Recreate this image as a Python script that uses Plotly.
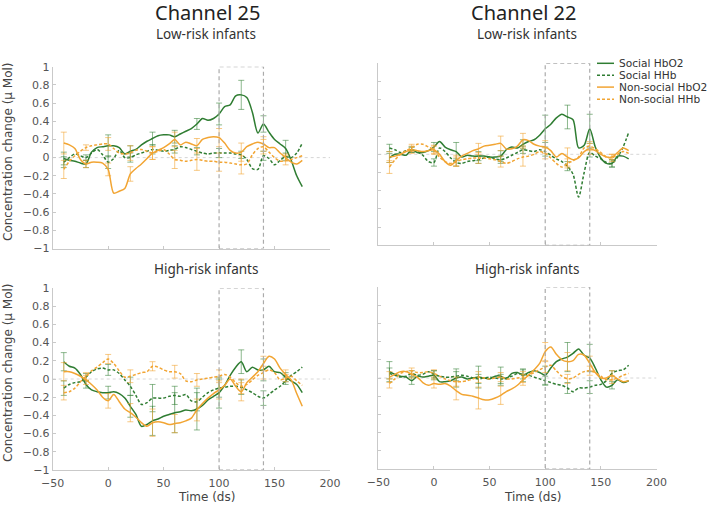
import plotly.graph_objects as go

W, H = 709, 507

# ---------------- data ----------------
T = list(range(-40, 180, 5))          # time (ds) sample grid
ERR_T = list(range(-40, 161, 20))     # positions of error bars

SERIES_NAMES = ["Social HbO2", "Social HHb", "Non-social HbO2", "Non-social HHb"]

# Channel 25, low-risk
C25_LOW_SOC_HBO2 = [-0.01, -0.03, -0.04, -0.06, -0.07, 0.06, 0.11, 0.12, 0.13, 0.13, 0.11, 0.04, 0.07, 0.09,
                    0.14, 0.18, 0.21, 0.24, 0.25, 0.25, 0.23, 0.26, 0.29, 0.32, 0.37, 0.43, 0.41, 0.43, 0.48,
                    0.56, 0.58, 0.68, 0.69, 0.66, 0.5, 0.27, 0.37, 0.28, 0.2, 0.15, 0.1, -0.03, -0.2, -0.32]
C25_LOW_SOC_HHB = [-0.05, 0.0, 0.04, 0.02, 0.0, 0.05, 0.09, 0.03, -0.05, -0.01, 0.08, 0.0, 0.0, 0.03, 0.05,
                   0.07, 0.09, 0.08, 0.07, 0.08, 0.09, 0.12, 0.11, 0.09, 0.07, 0.05, 0.04, 0.05, 0.05, 0.05,
                   0.05, 0.04, 0.03, -0.02, -0.12, -0.13, 0.02, -0.01, -0.08, -0.03, 0.01, 0.0, 0.05, 0.16]
C25_LOW_NON_HBO2 = [0.16, 0.14, 0.1, -0.02, -0.07, -0.05, -0.05, -0.06, -0.13, -0.39, -0.37, -0.34, -0.18,
                    -0.12, -0.07, -0.01, 0.05, 0.08, 0.11, 0.15, 0.2, 0.14, 0.17, 0.15, 0.13, 0.2, 0.22, 0.23,
                    0.22, 0.16, 0.08, 0.05, 0.06, 0.12, 0.15, 0.17, 0.15, 0.11, 0.11, 0.05, 0.0, -0.05, -0.07,
                    -0.03]
C25_LOW_NON_HHB = [-0.13, -0.04, 0.02, 0.07, 0.11, 0.13, 0.14, 0.15, 0.15, 0.1, 0.05, 0.04, 0.05, 0.08, 0.09,
                   0.07, 0.05, 0.07, 0.09, 0.04, -0.02, -0.03, -0.04, -0.03, -0.02, -0.03, -0.04, -0.04, -0.05,
                   -0.05, -0.06, -0.07, -0.08, -0.07, 0.03, 0.1, 0.12, 0.06, 0.0, -0.04, -0.03, -0.02, 0.0, 0.02]
C25_LOW_ERR = [
    [0.07, 0.04, 0.12, 0.06, 0.07, 0.07, 0.06, 0.12, 0.16, 0.09, 0.09],
    [0.06, 0.03, 0.07, 0.05, 0.05, 0.04, 0.04, 0.05, 0.04, 0.05, 0.04],
    [0.12, 0.04, 0.07, 0.08, 0.07, 0.08, 0.08, 0.1, 0.1, 0.08, 0.04],
    [0.1, 0.03, 0.07, 0.08, 0.07, 0.1, 0.12, 0.1, 0.1, 0.08, 0.05],
]

# Channel 22, low-risk
C22_LOW_SOC_HBO2 = [-0.04, 0.0, 0.0, -0.01, 0.05, 0.02, 0.02, 0.04, 0.08, 0.14, 0.08, 0.05, 0.03, -0.03,
                    -0.01, -0.02, -0.02, -0.02, -0.03, -0.03, -0.02, 0.05, 0.08, 0.07, 0.11, 0.14, 0.16, 0.21,
                    0.28, 0.33, 0.4, 0.44, 0.41, 0.38, 0.07, 0.1, 0.28, 0.08, -0.04, -0.1, -0.1, -0.02, -0.02,
                    -0.05]
C22_LOW_SOC_HHB = [0.07, 0.05, 0.02, 0.04, 0.05, 0.03, -0.01, -0.08, -0.09, 0.07, 0.03, -0.04, -0.09, -0.1,
                   -0.08, -0.07, -0.06, -0.04, -0.03, -0.05, -0.06, -0.04, -0.01, 0.02, 0.05, 0.04, 0.03, 0.05,
                   0.03, -0.01, -0.05, -0.08, -0.13, -0.22, -0.47, -0.2, 0.02, -0.02, -0.05, -0.09, -0.1, -0.03,
                   0.08, 0.24]
C22_LOW_NON_HBO2 = [-0.03, -0.02, 0.0, 0.03, 0.05, 0.04, 0.03, 0.04, 0.05, 0.0, -0.08, -0.12, -0.07, -0.02,
                    0.01, 0.04, 0.06, 0.09, 0.1, 0.11, 0.12, 0.06, 0.06, 0.09, 0.16, 0.15, 0.11, 0.09, 0.08,
                    0.04, -0.03, 0.01, -0.03, -0.06, -0.04, 0.03, 0.06, 0.04, 0.0, -0.03, -0.03, 0.02, 0.07, 0.04]
C22_LOW_NON_HHB = [-0.14, -0.06, 0.0, 0.04, 0.07, 0.11, 0.11, 0.08, 0.05, -0.03, -0.08, -0.1, -0.08, -0.06,
                   -0.05, -0.04, -0.04, -0.04, -0.05, -0.06, -0.08, -0.1, -0.08, -0.05, -0.03, -0.02, 0.0, 0.03,
                   0.01, -0.04, -0.1, -0.14, -0.1, -0.07, -0.03, 0.07, 0.09, 0.06, 0.02, -0.03, -0.04, 0.0, 0.03,
                   0.01]
C22_LOW_ERR = [
    [0.05, 0.03, 0.05, 0.1, 0.05, 0.06, 0.05, 0.15, 0.13, 0.16, 0.04],
    [0.04, 0.03, 0.04, 0.04, 0.04, 0.04, 0.04, 0.05, 0.05, 0.05, 0.04],
    [0.06, 0.04, 0.04, 0.06, 0.06, 0.08, 0.07, 0.07, 0.1, 0.06, 0.03],
    [0.07, 0.04, 0.05, 0.05, 0.06, 0.06, 0.1, 0.06, 0.05, 0.05, 0.04],
]

# Channel 25, high-risk
C25_HIGH_SOC_HBO2 = [0.19, 0.14, 0.12, 0.05, -0.06, -0.12, -0.14, -0.15, -0.15, -0.14, -0.16, -0.21, -0.3,
                     -0.39, -0.52, -0.5, -0.46, -0.44, -0.41, -0.39, -0.37, -0.36, -0.34, -0.35, -0.33, -0.29,
                     -0.23, -0.19, -0.15, -0.07, 0.04, 0.13, 0.19, 0.08, 0.13, 0.1, 0.1, 0.14, 0.08, 0.07, 0.02,
                     -0.02, -0.06, -0.15]
C25_HIGH_SOC_HHB = [-0.1, -0.06, -0.04, -0.03, 0.02, 0.08, 0.11, 0.12, 0.1, 0.1, 0.06, -0.01, -0.08, -0.18,
                    -0.28, -0.26, -0.21, -0.21, -0.21, -0.19, -0.18, -0.19, -0.17, -0.24, -0.25, -0.2, -0.15,
                    -0.12, -0.1, -0.09, -0.08, -0.08, -0.09, -0.12, -0.15, -0.19, -0.21, -0.17, -0.12, -0.08,
                    -0.02, 0.04, 0.08, 0.13]
C25_HIGH_NON_HBO2 = [0.08, 0.08, 0.06, 0.03, -0.01, -0.06, -0.12, -0.2, -0.24, -0.17, -0.25, -0.33, -0.37,
                     -0.42, -0.48, -0.52, -0.48, -0.47, -0.48, -0.5, -0.49, -0.48, -0.46, -0.43, -0.34, -0.27,
                     -0.21, -0.16, -0.12, -0.07, 0.0, -0.08, -0.14, -0.04, 0.02, 0.08, 0.17, 0.25, 0.22, 0.12,
                     0.05, -0.01, -0.16, -0.3]
C25_HIGH_NON_HHB = [-0.15, -0.14, -0.1, -0.03, 0.03, 0.09, 0.13, 0.18, 0.22, 0.17, 0.09, 0.02, 0.03, 0.05,
                    0.07, 0.08, 0.14, 0.13, 0.1, 0.08, 0.08, 0.06, -0.02, -0.03, -0.01, 0.0, 0.01, 0.02, 0.03,
                    0.05, 0.02, -0.04, -0.08, -0.06, -0.01, 0.04, 0.07, 0.1, 0.07, -0.01, 0.01, 0.03, -0.02, -0.07]
C25_HIGH_ERR = [
    [0.1, 0.04, 0.07, 0.12, 0.16, 0.22, 0.23, 0.17, 0.13, 0.12, 0.05],
    [0.08, 0.04, 0.06, 0.1, 0.15, 0.1, 0.1, 0.1, 0.08, 0.08, 0.04],
    [0.1, 0.05, 0.08, 0.1, 0.15, 0.1, 0.12, 0.1, 0.1, 0.08, 0.05],
    [0.08, 0.04, 0.05, 0.07, 0.05, 0.07, 0.07, 0.07, 0.08, 0.07, 0.04],
]

# Channel 22, high-risk
C22_HIGH_SOC_HBO2 = [0.07, 0.04, 0.02, 0.01, -0.03, 0.02, 0.01, 0.02, 0.03, -0.04, -0.04, -0.03, 0.0, 0.01,
                     -0.01, 0.0, 0.01, 0.0, -0.01, 0.02, 0.02, -0.01, 0.05, 0.06, 0.03, 0.06, 0.08, 0.06, 0.03,
                     0.11, 0.18, 0.21, 0.23, 0.27, 0.32, 0.25, 0.22, 0.11, -0.02, -0.1, -0.08, -0.02, -0.05, -0.03]
C22_HIGH_SOC_HHB = [0.05, 0.03, 0.01, 0.02, 0.05, 0.03, 0.04, 0.07, 0.04, 0.02, 0.01, 0.01, 0.02, 0.03, 0.02,
                    0.0, -0.01, 0.0, 0.01, 0.0, -0.01, 0.0, 0.02, 0.05, 0.04, 0.03, 0.01, -0.01, -0.03, -0.05,
                    -0.07, -0.08, -0.11, -0.15, -0.11, -0.11, -0.1, -0.08, -0.07, -0.03, 0.05, 0.08, 0.09, 0.14]
C22_HIGH_NON_HBO2 = [0.01, 0.04, 0.07, 0.07, 0.04, 0.01, -0.05, -0.08, -0.06, -0.07, -0.06, -0.09, -0.14,
                     -0.18, -0.19, -0.2, -0.22, -0.24, -0.24, -0.22, -0.19, -0.15, -0.12, -0.08, -0.02, 0.03,
                     0.09, 0.16, 0.29, 0.34, 0.26, 0.2, 0.18, 0.19, 0.26, 0.25, 0.16, 0.06, 0.0, 0.0, 0.03, -0.01,
                     -0.04, -0.03]
C22_HIGH_NON_HHB = [-0.06, -0.01, 0.05, 0.07, 0.08, 0.06, 0.06, 0.07, 0.05, 0.02, -0.01, -0.03, -0.04, -0.04,
                    -0.03, -0.01, 0.01, 0.0, -0.01, 0.0, 0.01, -0.01, -0.01, 0.0, 0.01, 0.03, 0.06, 0.09, 0.12,
                    0.14, 0.08, 0.02, -0.01, 0.0, 0.04, 0.07, 0.08, 0.06, 0.02, -0.02, -0.02, 0.0, 0.03, 0.05]
C22_HIGH_ERR = [
    [0.11, 0.04, 0.05, 0.1, 0.12, 0.1, 0.07, 0.1, 0.16, 0.15, 0.04],
    [0.06, 0.03, 0.04, 0.05, 0.05, 0.05, 0.05, 0.05, 0.06, 0.07, 0.03],
    [0.06, 0.04, 0.05, 0.1, 0.12, 0.1, 0.06, 0.1, 0.1, 0.08, 0.05],
    [0.05, 0.03, 0.04, 0.05, 0.06, 0.05, 0.06, 0.06, 0.05, 0.05, 0.04],
]

STIM_WINDOW = [100, 140]   # dashed box

PANELS = [
    ("x", "y", [C25_LOW_SOC_HBO2, C25_LOW_SOC_HHB, C25_LOW_NON_HBO2, C25_LOW_NON_HHB], C25_LOW_ERR),
    ("x2", "y2", [C22_LOW_SOC_HBO2, C22_LOW_SOC_HHB, C22_LOW_NON_HBO2, C22_LOW_NON_HHB], C22_LOW_ERR),
    ("x3", "y3", [C25_HIGH_SOC_HBO2, C25_HIGH_SOC_HHB, C25_HIGH_NON_HBO2, C25_HIGH_NON_HHB], C25_HIGH_ERR),
    ("x4", "y4", [C22_HIGH_SOC_HBO2, C22_HIGH_SOC_HHB, C22_HIGH_NON_HBO2, C22_HIGH_NON_HHB], C22_HIGH_ERR),
]

# ---------------- styles ----------------
GREEN = "#2f7d32"
ORANGE = "#f2a533"
GREEN_ERR = "rgba(47,125,50,0.55)"
ORANGE_ERR = "rgba(242,165,51,0.6)"
COLORS = [GREEN, GREEN, ORANGE, ORANGE]
ERR_COLORS = [GREEN_ERR, GREEN_ERR, ORANGE_ERR, ORANGE_ERR]
DASHES = ["solid", "3px,2px", "solid", "3px,2px"]
AXIS_COLOR = "#c9c9c9"
TICK_FONT = dict(family="DejaVu Sans", size=11, color="#555555")
TXT = "#333333"

fig = go.Figure()

for xa, ya, series, errs in PANELS:
    for k in range(4):
        vals = series[k]
        fig.add_trace(go.Scatter(
            x=T, y=vals, mode="lines", xaxis=xa, yaxis=ya, showlegend=False, hoverinfo="skip",
            line=dict(color=COLORS[k], width=1.5, dash=DASHES[k], shape="spline", smoothing=0.8),
        ))
        ey = [vals[T.index(t)] for t in ERR_T]
        fig.add_trace(go.Scatter(
            x=ERR_T, y=ey, mode="markers", xaxis=xa, yaxis=ya, showlegend=False, hoverinfo="skip",
            marker=dict(size=1, opacity=0),
            error_y=dict(type="data", array=errs[k], color=ERR_COLORS[k], thickness=1, width=3),
        ))


def px_x(p):
    return p / W


def px_y(p):
    return 1 - p / H


doms = {
    "1": ([52.7, 330.0], [66.7, 248.5]),
    "2": ([378.3, 656.5], [63.3, 245.3]),
    "3": ([52.7, 330.0], [288.0, 470.0]),
    "4": ([378.3, 656.5], [287.0, 469.0]),
}

layout_axes = {}
for key, (xd, yd) in doms.items():
    suffix = "" if key == "1" else key
    left = key in ("1", "3")
    bottom = key in ("3", "4")
    layout_axes["xaxis" + suffix] = dict(
        domain=[px_x(xd[0]), px_x(xd[1])], anchor="y" + suffix, range=[-50, 200], automargin=False,
        tickmode="array", tickvals=[-50, 0, 50, 100, 150, 200],
        showticklabels=bottom, ticks="inside", ticklen=3, tickcolor=AXIS_COLOR, ticklabelstandoff=3,
        showline=True, linecolor=AXIS_COLOR, linewidth=1, showgrid=False, zeroline=False,
        tickfont=TICK_FONT, fixedrange=True,
    )
    layout_axes["yaxis" + suffix] = dict(
        domain=[px_y(yd[1]), px_y(yd[0])], anchor="x" + suffix, range=[-1, 1], automargin=False,
        tickmode="array", tickvals=[-1, -0.8, -0.6, -0.4, -0.2, 0, 0.2, 0.4, 0.6, 0.8, 1],
        ticktext=["\u22121", "\u22120.8", "\u22120.6", "\u22120.4", "\u22120.2", "0", "0.2", "0.4", "0.6", "0.8", "1"],
        showticklabels=left, ticks="inside", ticklen=3, tickcolor=AXIS_COLOR,
        showline=True, linecolor=AXIS_COLOR, linewidth=1, showgrid=False, zeroline=False,
        tickfont=TICK_FONT, fixedrange=True,
    )

shapes = []
for xa, ya, _, _ in PANELS:
    shapes.append(dict(type="line", xref=xa, yref=ya, x0=-50, x1=200, y0=0, y1=0,
                       line=dict(color="#d6d6d6", width=1, dash="dot"), layer="below"))
    shapes.append(dict(type="rect", xref=xa, yref=ya, x0=STIM_WINDOW[0], x1=STIM_WINDOW[1], y0=-1, y1=1,
                       line=dict(color="#ababab", width=1.2, dash="4px,3px")))

# legend (drawn manually to match compact spacing)
LEG_Y = [63.3, 75.2, 87.1, 99.2]
annotations = []
for k, name in enumerate(SERIES_NAMES):
    shapes.append(dict(type="line", xref="paper", yref="paper", x0=px_x(597), x1=px_x(614),
                       y0=px_y(LEG_Y[k]), y1=px_y(LEG_Y[k]),
                       line=dict(color=COLORS[k], width=1.5, dash=DASHES[k])))
    annotations.append(dict(text=name, xref="paper", yref="paper", x=px_x(616.5), y=px_y(LEG_Y[k]),
                            xanchor="left", yanchor="middle", showarrow=False,
                            font=dict(family="DejaVu Sans", size=10.6, color=TXT)))

TITLE_FONT = dict(family="Noto Sans", size=20, color="#222222")
SUB_FONT = dict(family="Noto Sans", size=13.5, color="#333333")
for text, x, y, f in [
    ("Channel 25", 207.5, 12, TITLE_FONT), ("Channel 22", 523.7, 12, TITLE_FONT),
    ("Low-risk infants", 205.5, 34, SUB_FONT), ("Low-risk infants", 527, 34, SUB_FONT),
    ("High-risk infants", 205.5, 269, SUB_FONT), ("High-risk infants", 527, 269, SUB_FONT),
]:
    annotations.append(dict(text=text, xref="paper", yref="paper", x=px_x(x), y=px_y(y),
                            xanchor="center", yanchor="middle", showarrow=False, font=f))

AX_TITLE_FONT = dict(family="DejaVu Sans", size=12, color="#444444")
for x in (206, 532):
    annotations.append(dict(text="Time (ds)", xref="paper", yref="paper", x=px_x(x), y=px_y(497),
                            xanchor="center", yanchor="middle", showarrow=False, font=AX_TITLE_FONT))
for y in (152, 373):
    annotations.append(dict(text="Concentration change (\u03bc Mol)", xref="paper", yref="paper",
                            x=px_x(8), y=px_y(y), xanchor="center", yanchor="middle", textangle=-90,
                            showarrow=False, font=AX_TITLE_FONT))

annotations.append(dict(text="*", xref="x", yref="y", x=120, y=1.09, xanchor="center", yanchor="middle",
                        showarrow=False, font=dict(family="DejaVu Sans", size=12, color="#333333")))

fig.update_layout(
    template="none",
    width=W, height=H, margin=dict(l=0, r=0, t=0, b=0, pad=0, autoexpand=False),
    paper_bgcolor="white", plot_bgcolor="white", showlegend=False,
    shapes=shapes, annotations=annotations, **layout_axes,
)

fig.write_html("out.html", config={"displayModeBar": False},
               post_script="document.body.style.margin='0';document.body.style.padding='0';")
